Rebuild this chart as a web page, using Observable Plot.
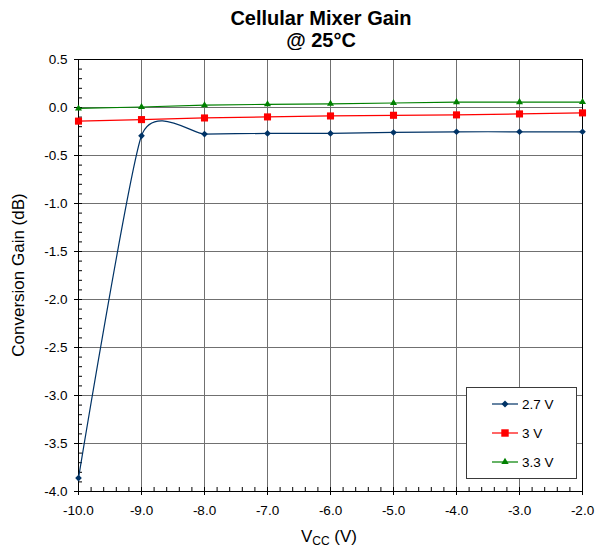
<!DOCTYPE html>
<html>
<head>
<meta charset="utf-8">
<script src="https://cdn.jsdelivr.net/npm/d3@7"></script>
<script src="https://cdn.jsdelivr.net/npm/@observablehq/plot@0.6"></script>
<style>
  html, body { margin: 0; padding: 0; background: white; }
  #wrap { position: relative; width: 600px; height: 549px; font-family: "Liberation Sans", Arial, sans-serif; color: black; overflow: hidden; }
  #title { position: absolute; left: 171px; width: 300px; top: 7px; text-align: center; font-weight: bold; font-size: 20px; line-height: 22px; }
  #chart { position: absolute; left: 0; top: 50px; }
  #ylab { position: absolute; left: 19px; top: 275px; transform: translate(-50%, -50%) rotate(-90deg); font-size: 17px; white-space: nowrap; line-height: 20px; }
  #xlab { position: absolute; left: 229px; width: 200px; top: 527px; text-align: center; font-size: 17px; line-height: 20px; white-space: nowrap; }
  #legend { position: absolute; left: 466px; top: 387px; width: 111px; height: 92px; border: 1px solid #3a3a3a; background: white; box-sizing: border-box; }
  .lrow { position: absolute; left: 24px; height: 20px; display: flex; align-items: center; font-size: 13.5px; }
  .lrow svg { margin-right: 3px; }
</style>
</head>
<body>
<div id="wrap">
  <div id="title">Cellular Mixer Gain<br>@ 25°C</div>
  <div id="chart"></div>
  <div id="ylab">Conversion Gain (dB)</div>
  <div id="xlab">V<span style="font-size:12px; vertical-align:-3px;">CC</span> (V)</div>
  <div id="legend"></div>
</div>
<script>
// ---- data ----
const vcc = [-10, -9, -8, -7, -6, -5, -4, -3, -2];
const gain27 = [-3.86, -0.295, -0.277, -0.27, -0.27, -0.26, -0.253, -0.253, -0.253];
const gain30 = [-0.142, -0.126, -0.109, -0.098, -0.088, -0.081, -0.077, -0.067, -0.056];
const gain33 = [-0.01, 0.005, 0.024, 0.033, 0.038, 0.047, 0.056, 0.056, 0.057];
const seriesNames = ["2.7 V", "3 V", "3.3 V"];
const xTicks = [-10, -9, -8, -7, -6, -5, -4, -3, -2];
const yTicks = [0.5, 0, -0.5, -1, -1.5, -2, -2.5, -3, -3.5, -4];

// ---- styles ----
const colors = { "2.7 V": "#003366", "3 V": "#ff0000", "3.3 V": "#008000" };
const symbols = { "2.7 V": "diamond2", "3 V": "square", "3.3 V": "triangle" };
const radii = { "2.7 V": 3.0, "3 V": 4.0, "3.3 V": 2.6 };
const d3sym = { "2.7 V": d3.symbolDiamond2, "3 V": d3.symbolSquare, "3.3 V": d3.symbolTriangle };

const seriesValues = [gain27, gain30, gain33];
const rows = [];
seriesNames.forEach((s, i) => vcc.forEach((x, j) => rows.push({ series: s, x, y: seriesValues[i][j] })));
const bySeries = s => rows.filter(r => r.series === s);

const minorX = d3.range(-50, -9).map(i => i / 5);
const minorY = d3.range(-40, 6).map(i => i / 10);
const fmt = d => d.toFixed(1);

const marks = [
  Plot.gridX({ ticks: xTicks, stroke: "#707070", strokeOpacity: 1 }),
  Plot.gridY({ ticks: yTicks, stroke: "#707070", strokeOpacity: 1 }),
  Plot.frame({ stroke: "black" }),
  // minor ticks (inside)
  Plot.axisX({ ticks: minorX, tickSize: 4, dy: -4, tickFormat: () => "", label: null }),
  Plot.axisY({ ticks: minorY, tickSize: 4, dx: 4, tickFormat: () => "", label: null }),
  // major ticks + labels
  Plot.axisX({ ticks: xTicks, tickSize: 4, tickPadding: 10, tickFormat: fmt, label: null }),
  Plot.axisY({ ticks: yTicks, tickSize: 4, tickPadding: 7, tickFormat: fmt, label: null })
];
for (const s of seriesNames) {
  marks.push(Plot.line(bySeries(s), {
    x: "x", y: "y", stroke: colors[s], strokeWidth: 1.2,
    curve: s === "2.7 V" ? "cardinal" : "linear",
    tension: 0.43
  }));
}
for (const s of seriesNames) {
  marks.push(Plot.dot(bySeries(s), {
    x: "x", y: "y", symbol: symbols[s], r: radii[s], fill: colors[s], stroke: "none"
  }));
}

const chart = Plot.plot({
  width: 600,
  height: 499,
  marginTop: 9,
  marginBottom: 58,
  marginLeft: 78,
  marginRight: 18,
  style: { fontFamily: "'Liberation Sans', Arial, sans-serif", fontSize: "13.5px", color: "black", background: "white", overflow: "visible" },
  x: { domain: [-10, -2] },
  y: { domain: [-4, 0.5] },
  marks
});
document.getElementById("chart").appendChild(chart);

// ---- legend ----
const legend = document.getElementById("legend");
const rowTops = [6, 35, 64];
seriesNames.forEach((s, i) => {
  const row = document.createElement("div");
  row.className = "lrow";
  row.style.top = rowTops[i] + "px";
  const svg = d3.create("svg").attr("width", 28).attr("height", 14);
  svg.append("line").attr("x1", 1).attr("x2", 27).attr("y1", 7).attr("y2", 7)
    .attr("stroke", colors[s]).attr("stroke-width", 1.2);
  svg.append("path")
    .attr("d", d3.symbol().type(d3sym[s]).size(Math.PI * radii[s] * radii[s] * 1.1)())
    .attr("transform", "translate(14,7)")
    .attr("fill", colors[s]);
  row.appendChild(svg.node());
  const t = document.createElement("span");
  t.textContent = s;
  row.appendChild(t);
  legend.appendChild(row);
});
</script>
</body>
</html>
